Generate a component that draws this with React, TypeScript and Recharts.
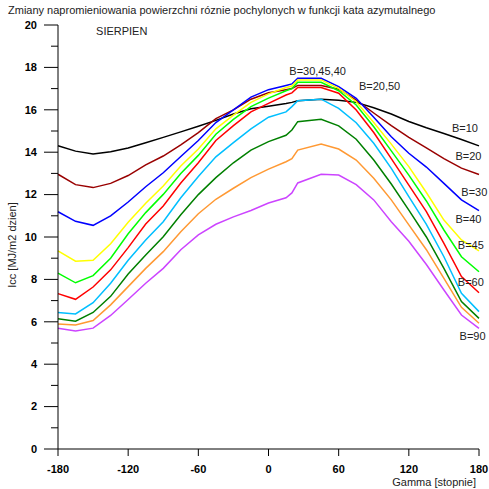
import { LineChart, Line, XAxis, YAxis, ReferenceDot } from 'recharts';

const FONT = 'Arial, "Liberation Sans", sans-serif';

// kat azymutalny (stopnie)
const GAMMA = [-180, -165, -150, -135, -120, -105, -90, -75, -60, -45, -30, -15, 0, 15, 20, 25, 45, 60, 75, 90, 105, 120, 135, 150, 165, 180];

// Icc [MJ/m2 dzien] dla kolejnych katow pochylenia B
const B10 = [14.3, 14.05, 13.92, 14.02, 14.2, 14.45, 14.7, 14.96, 15.22, 15.5, 15.8, 16.05, 16.17, 16.3, 16.35, 16.43, 16.5, 16.45, 16.35, 16.1, 15.8, 15.45, 15.15, 14.88, 14.6, 14.3];
const B20 = [12.96, 12.47, 12.33, 12.53, 12.9, 13.4, 13.82, 14.35, 14.92, 15.58, 16.0, 16.5, 16.8, 16.95, 17.0, 17.15, 17.15, 16.97, 16.46, 15.85, 15.25, 14.7, 14.2, 13.7, 13.25, 12.95];
const B30 = [11.19, 10.74, 10.55, 11.0, 11.65, 12.37, 13.03, 13.8, 14.55, 15.4, 16.0, 16.6, 16.95, 17.15, 17.22, 17.49, 17.49, 17.09, 16.54, 15.65, 14.73, 13.95, 13.3, 12.53, 11.75, 11.24];
const B40 = [9.35, 8.86, 8.9, 9.68, 10.7, 11.59, 12.41, 13.35, 14.15, 15.1, 15.75, 16.35, 16.75, 17.05, 17.12, 17.41, 17.41, 17.01, 16.38, 15.4, 14.38, 13.32, 12.1, 10.8, 9.86, 9.35];
const B45 = [8.3, 7.84, 8.18, 9.0, 10.15, 11.15, 12.01, 13.0, 13.85, 14.85, 15.55, 16.15, 16.55, 16.9, 17.0, 17.3, 17.3, 16.9, 16.23, 15.2, 14.06, 12.92, 11.7, 10.33, 9.07, 8.36];
const B50 = [7.33, 7.06, 7.64, 8.45, 9.5, 10.61, 11.46, 12.55, 13.5, 14.55, 15.25, 15.9, 16.3, 16.7, 16.8, 17.05, 17.05, 16.78, 15.99, 14.93, 13.7, 12.45, 11.2, 9.7, 8.13, 7.37];
const B60 = [6.44, 6.37, 6.9, 7.82, 8.9, 9.86, 10.72, 11.85, 12.85, 13.78, 14.45, 15.1, 15.65, 15.9, 16.15, 16.43, 16.5, 16.07, 15.39, 14.42, 13.24, 11.9, 10.6, 9.07, 7.34, 6.48];
const B70 = [6.14, 6.03, 6.44, 7.2, 8.25, 9.15, 10.01, 11.05, 12.0, 12.8, 13.5, 14.1, 14.5, 14.8, 15.05, 15.44, 15.55, 15.24, 14.61, 13.63, 12.5, 11.27, 10.0, 8.52, 6.95, 6.16];
const B80 = [5.9, 5.85, 6.06, 6.8, 7.66, 8.52, 9.31, 10.25, 11.1, 11.78, 12.3, 12.8, 13.2, 13.55, 13.7, 14.1, 14.39, 14.15, 13.63, 12.77, 11.75, 10.57, 9.4, 8.05, 6.68, 5.93];
const B90 = [5.7, 5.57, 5.7, 6.3, 7.05, 7.82, 8.52, 9.4, 10.1, 10.6, 10.95, 11.25, 11.6, 11.85, 12.08, 12.55, 12.96, 12.92, 12.47, 11.75, 10.72, 9.8, 8.7, 7.5, 6.32, 5.69];

const SERIES = [
  { key: 'b10', values: B10, color: '#000000' },
  { key: 'b20', values: B20, color: '#990000' },
  { key: 'b30', values: B30, color: '#0000ff' },
  { key: 'b40', values: B40, color: '#ffff00' },
  { key: 'b45', values: B45, color: '#00ff00' },
  { key: 'b50', values: B50, color: '#ff0000' },
  { key: 'b60', values: B60, color: '#00bfff' },
  { key: 'b70', values: B70, color: '#008000' },
  { key: 'b80', values: B80, color: '#ff9933' },
  { key: 'b90', values: B90, color: '#cc44ff' },
];

const X_TICKS = [-180, -120, -60, 0, 60, 120, 180];
const Y_TICKS = [0, 1, 2, 3, 4, 5, 6, 7, 8, 9, 10, 11, 12, 13, 14, 15, 16, 17, 18, 19, 20];

// opisy krzywych (wspolrzedne w jednostkach wykresu)
const NOTES = [
  { text: 'SIERPIEN', x: -125.5, y: 19.7 },
  { text: 'B=30,45,40', x: 42, y: 17.83 },
  { text: 'B=20,50', x: 95, y: 17.12 },
  { text: 'B=10', x: 168, y: 15.13 },
  { text: 'B=20', x: 171, y: 13.82 },
  { text: 'B=30', x: 176, y: 12.14 },
  { text: 'B=40', x: 171, y: 10.85 },
  { text: 'B=45', x: 173, y: 9.62 },
  { text: 'B=60', x: 173, y: 7.89 },
  { text: 'B=90', x: 174.5, y: 5.33 },
];

const data = GAMMA.map((g, i) => {
  const row: Record<string, number> = { x: g };
  SERIES.forEach(s => { row[s.key] = s.values[i]; });
  return row;
});

const Y_TICK_SIZE = 14;
const Y_TICK_MARGIN = 7;

function YTick(props: any) {
  const { x, y, payload } = props;
  const major = payload.value % 2 === 0;
  const axisX = x + Y_TICK_SIZE + Y_TICK_MARGIN;
  return (
    <g>
      <line x1={axisX - (major ? Y_TICK_SIZE : 7)} x2={axisX} y1={y} y2={y} stroke="#000" />
      {major && (
        <text x={x} y={y} dy="0.35em" textAnchor="end" fontSize={11} fontWeight="bold" fontFamily={FONT} fill="#000">
          {payload.value}
        </text>
      )}
    </g>
  );
}

function YLabel(props: any) {
  const { viewBox } = props;
  const cy = viewBox.y + viewBox.height / 2 + 8;
  return (
    <text x={12} y={cy} transform={`rotate(-90, 12, ${cy})`} textAnchor="middle" dominantBaseline="central" fontSize={11} fontFamily={FONT} fill="#222">
      Icc [MJ/m2 dzien]
    </text>
  );
}

export default function App() {
  return (
    <div style={{ position: 'absolute', left: 0, top: 0, width: 489, height: 489, background: '#fff', fontFamily: FONT }}>
      <div style={{ position: 'absolute', left: 8, top: 4, fontSize: 11, lineHeight: '13px', color: '#222', whiteSpace: 'nowrap' }}>
        Zmiany napromieniowania powierzchni róznie pochylonych w funkcji kata azymutalnego
      </div>
      <LineChart width={489} height={489} data={data} margin={{ top: 25, right: 10, bottom: 0, left: 0 }}>
        <XAxis
          dataKey="x"
          type="number"
          domain={[-180, 180]}
          ticks={X_TICKS}
          interval={0}
          stroke="#000"
          tickSize={7}
          tickMargin={9}
          height={40}
          tick={{ fontSize: 11, fontWeight: 'bold', fill: '#000', fontFamily: FONT }}
          label={{ value: 'Gamma [stopnie]', position: 'insideBottomRight', offset: 3, fontSize: 11, fill: '#222', fontFamily: FONT }}
        />
        <YAxis
          type="number"
          domain={[0, 20]}
          ticks={Y_TICKS}
          interval={0}
          width={58}
          stroke="#000"
          tickLine={false}
          tickSize={Y_TICK_SIZE}
          tickMargin={Y_TICK_MARGIN}
          tick={<YTick />}
          label={<YLabel />}
        />
        {SERIES.map(s => (
          <Line
            key={s.key}
            type="linear"
            dataKey={s.key}
            stroke={s.color}
            strokeWidth={1.5}
            dot={false}
            activeDot={false}
            isAnimationActive={false}
          />
        ))}
        {NOTES.map(n => (
          <ReferenceDot
            key={n.text}
            x={n.x}
            y={n.y}
            r={0}
            fill="none"
            stroke="none"
            ifOverflow="visible"
            label={{ value: n.text, position: 'center', fontSize: 11, fill: '#222', fontFamily: FONT }}
          />
        ))}
      </LineChart>
    </div>
  );
}
